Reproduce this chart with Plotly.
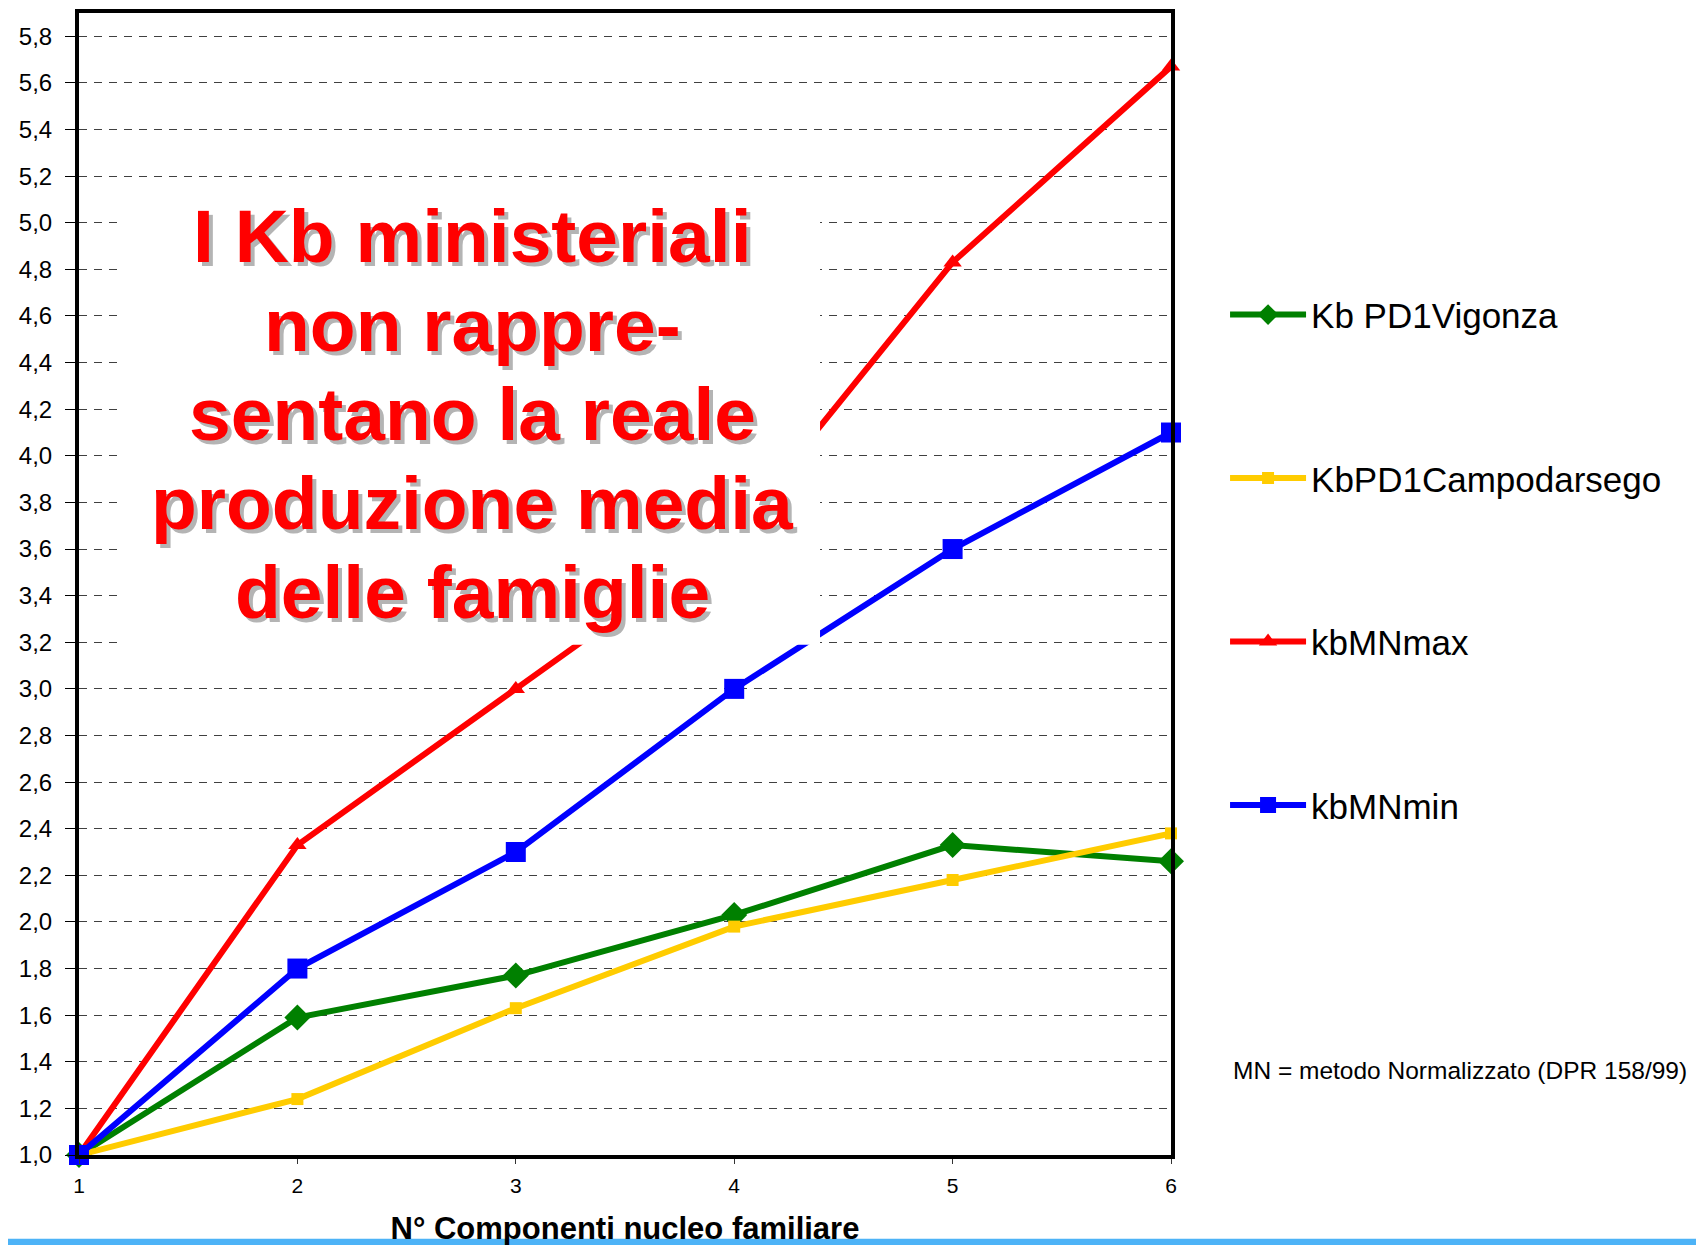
import plotly.graph_objects as go

# N° componenti nucleo familiare
componenti = [1, 2, 3, 4, 5, 6]

# Kb normalizzati (1 componente = 1,0)
kb_vigonza = [1.00, 1.59, 1.77, 2.03, 2.33, 2.26]
kb_campodarsego = [1.00, 1.24, 1.63, 1.98, 2.18, 2.38]
kb_mn_max = [1.00, 2.33, 3.00, 3.67, 4.83, 5.67]
kb_mn_min = [1.00, 1.80, 2.30, 3.00, 3.60, 4.10]

series_names = ["Kb PD1Vigonza", "KbPD1Campodarsego", "kbMNmax", "kbMNmin"]
series_colors = ["#008000", "#FFCC00", "#FF0000", "#0000FF"]
series_symbols = ["diamond", "square", "triangle-up", "square"]
series_sizes = [20, 12, 16, 20]

message_lines = [
    "I Kb ministeriali",
    "non rappre-",
    "sentano la reale",
    "produzione media",
    "delle famiglie",
]
message_y = [0.8045, 0.7269, 0.6492, 0.5707, 0.4930]

note_text = "MN = metodo Normalizzato (DPR 158/99)"
x_title = "N° Componenti nucleo familiare"

fig = go.Figure()

for name, values, color, symbol, size in zip(
    series_names,
    [kb_vigonza, kb_campodarsego, kb_mn_max, kb_mn_min],
    series_colors,
    series_symbols,
    series_sizes,
):
    fig.add_trace(
        go.Scatter(
            x=componenti,
            y=values,
            name=name,
            legendgroup=name,
            mode="lines+markers",
            line=dict(color=color, width=6),
            marker=dict(symbol=symbol, size=size, color=color),
            cliponaxis=False,
        )
    )

# white box behind the message (covers lines and grid like the original text box)
fig.add_shape(
    type="rect",
    xref="paper",
    yref="paper",
    x0=0.0348,
    x1=0.6786,
    y0=0.4468,
    y1=0.8394,
    fillcolor="white",
    line=dict(width=0),
    layer="above",
)

for line_text, ypos in zip(message_lines, message_y):
    fig.add_annotation(
        text=f"<b>{line_text}</b>",
        xref="paper",
        yref="paper",
        x=0.36,
        y=ypos,
        xanchor="center",
        yanchor="middle",
        showarrow=False,
        font=dict(
            family="Liberation Sans, Arial",
            size=75,
            color="#FF0000",
            shadow="4px 4px 0px #b4b4b4",
        ),
    )

fig.add_annotation(
    text=note_text,
    xref="paper",
    yref="paper",
    x=1.055,
    y=(1154 - 1069) / 1146,
    xanchor="left",
    yanchor="middle",
    showarrow=False,
    font=dict(family="Liberation Sans, Arial", size=24.5, color="black"),
)

# light blue strip at the bottom of the slide
fig.add_shape(
    type="rect",
    xref="paper",
    yref="paper",
    x0=-0.08,
    x1=1.5,
    y0=-0.0820,
    y1=-0.0733,
    fillcolor="#4DB3F7",
    line=dict(width=0),
    layer="above",
)

fig.update_layout(
    width=1704,
    height=1245,
    margin=dict(l=71, r=541, t=1, b=98),
    paper_bgcolor="white",
    plot_bgcolor="white",
    separators=",.",
    showlegend=True,
    legend=dict(
        x=1.0495,
        y=0.7615,
        xanchor="left",
        yanchor="top",
        font=dict(family="Liberation Sans, Arial", size=35, color="black"),
        tracegroupgap=115,
        itemwidth=76,
        bgcolor="rgba(0,0,0,0)",
    ),
    xaxis=dict(
        range=[1, 6],
        tickvals=componenti,
        showgrid=False,
        zeroline=False,
        showline=True,
        linecolor="black",
        linewidth=4,
        mirror=True,
        ticks="outside",
        ticklen=5,
        tickcolor="#333333",
        tickwidth=1,
        ticklabelstandoff=4,
        tickfont=dict(family="Liberation Sans Narrow, Liberation Sans, Arial", size=21, color="black"),
        title=dict(
            text=f"<b>{x_title}</b>",
            font=dict(family="Liberation Sans Narrow, Liberation Sans, Arial", size=31, color="black"),
            standoff=22,
        ),
    ),
    yaxis=dict(
        range=[1, 5.9],
        tick0=1,
        dtick=0.2,
        tickformat=".1f",
        showgrid=True,
        gridcolor="#404040",
        gridwidth=1,
        griddash="8px,7px",
        zeroline=False,
        showline=True,
        linecolor="black",
        linewidth=4,
        mirror=True,
        ticks="outside",
        ticklen=10,
        tickcolor="black",
        tickwidth=1,
        ticklabelstandoff=8,
        tickfont=dict(family="Liberation Sans, Arial", size=24, color="black"),
    ),
)

fig.write_html("out.html")
